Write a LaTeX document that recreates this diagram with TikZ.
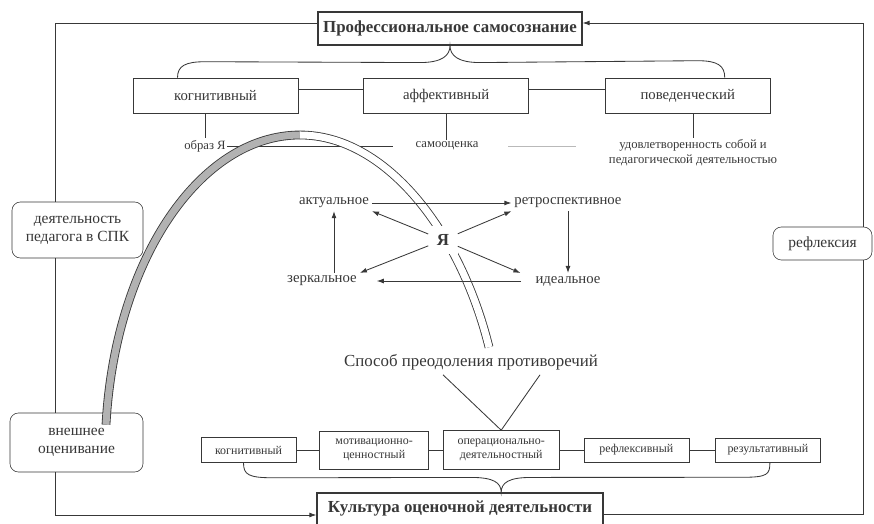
\documentclass[tikz,border=0pt]{standalone}
\usepackage{fontspec}
\setmainfont{Liberation Serif}
\usetikzlibrary{arrows.meta,positioning,calc}
\definecolor{ink}{gray}{0.22}
\definecolor{band}{gray}{0.7}

\begin{document}
\begin{tikzpicture}[
  x=0.025cm, y=-0.025cm,
  title/.style={draw=ink, thick, fill=white, text=ink, inner sep=0pt, minimum height=0.825cm, font=\fontsize{12}{14}\selectfont\bfseries},
  part/.style={draw=ink, fill=white, text=ink, inner sep=0pt, minimum width=4.125cm, minimum height=0.875cm, font=\fontsize{10.5}{12}\selectfont},
  side/.style={draw=ink, rounded corners=6pt, fill=white, text=ink, align=center, inner sep=0pt, font=\fontsize{11}{13}\selectfont},
  stage/.style={draw=ink, fill=white, text=ink, align=center, inner sep=0pt, font=\fontsize{8.5}{9.5}\selectfont},
  note/.style={text=ink, align=center, inner sep=1pt, font=\fontsize{9}{10.5}\selectfont},
  selfn/.style={text=ink, inner sep=2pt, font=\fontsize{10.5}{12}\selectfont},
  link/.style={draw=ink, line width=0.6pt},
  arr/.style={draw=ink, line width=0.6pt, -{Latex[length=5pt, width=3.5pt]}},
  arch/.style={draw=ink, line width=0.6pt, double distance=5pt}
]
\useasboundingbox (0,0) rectangle (874,524);

\node[title, minimum width=6.6cm] (prof) at (450,28.5) {Профессиональное самосознание};

\node[part] (kog) at (215.5,95.5) {когнитивный};
\node[part, right=1.625cm of kog] (aff) {аффективный};
\node[part, right=1.9cm of aff] (pov) {поведенческий};

\node[note] (obraz) at (205,146) {образ Я};
\node[note] (samo) at (447,146) {самооценка};
\node[note] (udov) at (693,153) {удовлетворенность собой и\\педагогической деятельностью};

\node[side, minimum width=3.275cm, minimum height=1.4cm] (deyat) at (77.5,230) {деятельность\\педагога в СПК};
\node[side, minimum width=3.325cm, minimum height=1.475cm] (vnesh) at (76.5,442.5) {внешнее\\оценивание};
\node[side, minimum width=2.475cm, minimum height=0.825cm] (refl) at (822.5,243.5) {рефлексия};

\node[text=ink, font=\fontsize{12}{14}\selectfont] (sposob) at (471,362) {Способ преодоления противоречий};

\node[stage, minimum width=2.375cm, minimum height=0.625cm] (kog2) at (248.5,450) {когнитивный};
\node[stage, minimum width=2.725cm, minimum height=0.95cm, right=0.575cm of kog2] (motiv) {мотивационно-\\ценностный};
\node[stage, minimum width=2.9cm, minimum height=0.975cm, right=0.35cm of motiv] (oper) {операционально-\\деятельностный};
\node[stage, minimum width=2.625cm, minimum height=0.6cm, right=0.6cm of oper] (refl2) {рефлексивный};
\node[stage, minimum width=2.625cm, minimum height=0.6cm, right=0.65cm of refl2] (res) {результативный};

\node[title, minimum width=7.15cm, minimum height=0.8cm] (kult) at (460,509) {Культура оценочной деятельности};

\coordinate (tl) at (55,23);
\coordinate (tr) at (863,23);
\coordinate (bl) at (55,515);
\coordinate (br) at (863,514);
\draw[link] (prof.west |- tl) -- (tl) -- (tl |- deyat.north);
\draw[link] (tl |- deyat.south) -- (tl |- vnesh.north);
\draw[arr] (tl |- vnesh.south) -- (bl) -- (kult.west |- bl);
\draw[link] (kult.east |- br) -- (br) -- (tr |- refl.south);
\draw[arr] (tr |- refl.north) -- (tr) -- (prof.east |- tr);

\draw[link] ($(kog.north)+(-38,0)$) .. controls +(0,-12) and +(-20,0) .. ($(kog.north)+(-10,-16)$) -- ($(prof.south)+(-30,17)$) .. controls +(22,0) and +(0,10) .. (prof.south) .. controls +(0,10) and +(-22,0) .. ($(prof.south)+(30,17)$) -- ($(pov.north)+(10,-17)$) .. controls +(20,0) and +(0,-12) .. ($(pov.north)+(37,0)$);

\draw[link] ($(kog.east)+(0,-6)$) -- ($(aff.west)+(0,-6)$);
\draw[link] ($(aff.east)+(0,-6)$) -- ($(pov.west)+(0,-6)$);

\draw[link] (kog.south -| obraz.north) -- (obraz.north);
\draw[link] (aff.south) -- (aff.south |- samo.north);
\draw[link] (pov.south -| udov.north) -- (udov.north);
\draw[link, shorten >=15pt] (obraz) -- (samo);
\draw[draw=gray!55, line width=0.6pt, shorten <=20pt, shorten >=22pt] (samo.east) -- (samo.east -| udov.west);

\coordinate (archL) at ($(vnesh.north)+(29.5,12)$);
\coordinate (archT) at (300,135);
\coordinate (archR) at ($(sposob.north)+(18,-2)$);
\draw[arch, double=band] (archL) .. controls (115,260) and (200,135) .. (archT);
\draw[arch, double=white] (archT) .. controls (385,135) and (460,230) .. (archR);

\node[fill=white, text=ink, inner sep=6pt, font=\fontsize{12}{14}\selectfont\bfseries] (ya) at (443,240) {Я};
\node[selfn] (akt) at (334,203) {актуальное};
\node[selfn] (retro) at (568,203) {ретроспективное};
\node[selfn] (zerk) at (322,281) {зеркальное};
\node[selfn] (ideal) at (568,281) {идеальное};

\draw[arr] (akt) -- (retro);
\draw[arr] (retro) -- (ideal);
\draw[arr, shorten <=8pt, shorten >=12pt] (ideal) -- (zerk);
\draw[arr] (zerk.north -| akt.south) -- (akt.south);
\draw[arr] (ya) -- (akt.south east);
\draw[arr] (ya) -- (retro.south west);
\draw[arr] (ya) -- (zerk.north east);
\draw[arr] (ya) -- ($(ideal.north west)+(-12,0)$);

\draw[link] ($(sposob.south)+(-28,0)$) -- (oper.north) -- ($(sposob.south)+(69,0)$);

\draw[link] (kog2) -- (motiv);
\draw[link] (motiv) -- (oper);
\draw[link] (oper) -- (refl2);
\draw[link] (refl2) -- (res);

\coordinate (tipb) at (kult.north -| oper.south);
\draw[link] ($(kog2.south)+(-5,0)$) .. controls +(0,12) and +(-25,0) .. ($(kog2.south)+(25,15)$) -- ($(tipb)+(-30,-15)$) .. controls +(22,0) and +(0,-10) .. (tipb) .. controls +(0,-10) and +(-22,0) .. ($(tipb)+(30,-15)$) -- ($(res.south)+(-25,15)$) .. controls +(25,0) and +(0,12) .. ($(res.south)+(2,0)$);

\end{tikzpicture}
\end{document}
